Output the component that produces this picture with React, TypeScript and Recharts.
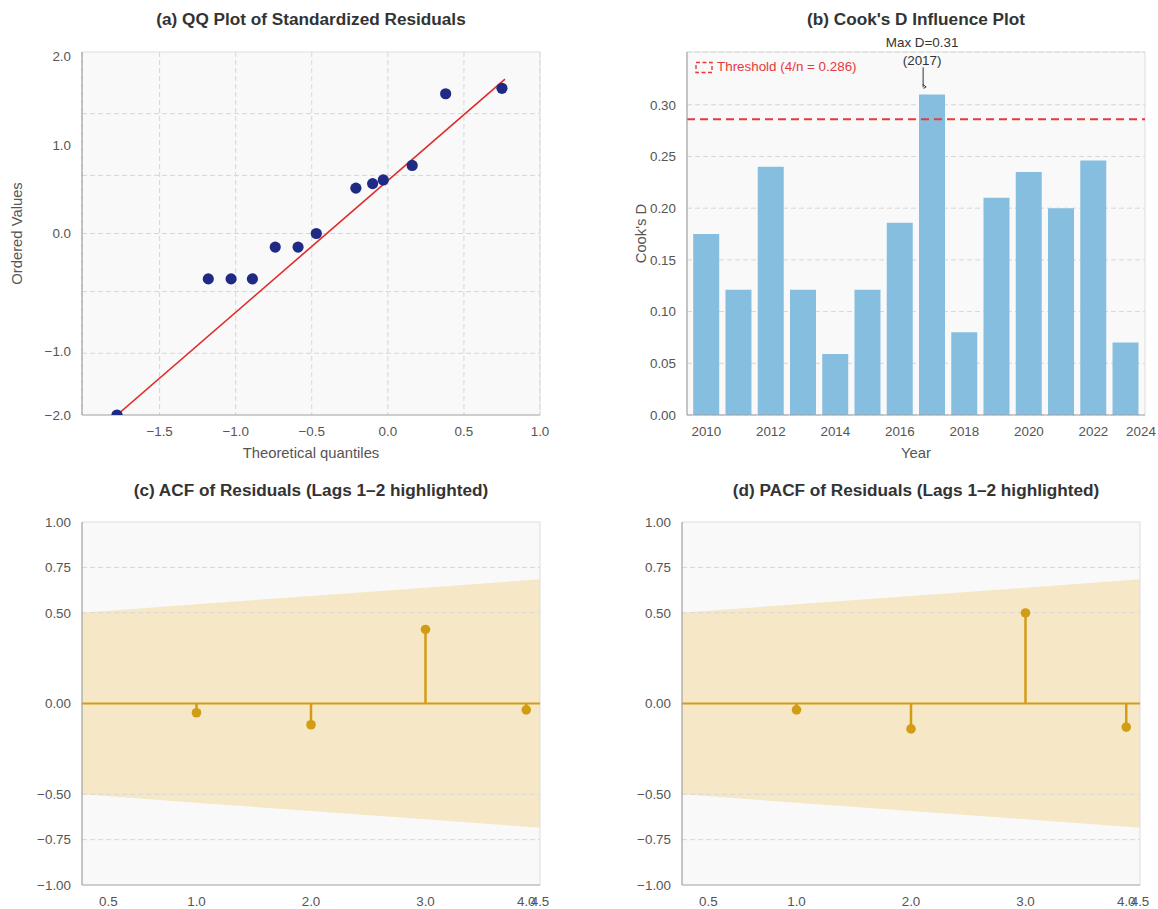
import React from 'react';
import {
  ScatterChart, Scatter, XAxis, YAxis, CartesianGrid, ReferenceLine,
  BarChart, Bar, ComposedChart, Area, ReferenceDot,
} from 'recharts';

const FONT = '"Liberation Sans", Arial, Helvetica, sans-serif';
const TICK_FS = 13.4;
const LABEL_FS = 14.8;
const TITLE_FS = 17.2;
const TICK_COLOR = '#555555';
const GRID = '#d6d6d6';
const SPINE = '#a0a0a0';
const SPINE_LIGHT = '#dddddd';
const BG = '#f9f9f9';

// ---------- (a) QQ plot ----------
const qqTheoretical = [-1.78, -1.18, -1.03, -0.89, -0.74, -0.59, -0.47, -0.21, -0.10, -0.03, 0.16, 0.38, 0.75];
const qqOrdered = [-2.0, -0.5, -0.5, -0.5, -0.15, -0.15, 0.0, 0.5, 0.55, 0.59, 0.75, 1.54, 1.6];
const qqLineX = [-1.78, 0.77];
const qqLineY = [-2.0, 1.7];
const qqXTicks = [-1.5, -1.0, -0.5, 0.0, 0.5, 1.0];
const qqXTickLabels = ['\u22121.5', '\u22121.0', '\u22120.5', '0.0', '0.5', '1.0'];
const qqYTicks = [1.95, 0.97, 0, -1.3, -2.0];
const qqYTickLabels = ['2.0', '1.0', '0.0', '\u22121.0', '\u22122.0'];
const qqYGrid = [1.32, 0.64, 0, -0.64, -1.32];

// ---------- (b) Cook's D ----------
const years = [2010, 2011, 2012, 2013, 2014, 2015, 2016, 2017, 2018, 2019, 2020, 2021, 2022, 2023];
const cooksD = [0.175, 0.121, 0.240, 0.121, 0.059, 0.121, 0.186, 0.310, 0.080, 0.210, 0.235, 0.200, 0.246, 0.070];
const yearTicks = [2010, 2012, 2014, 2016, 2018, 2020, 2022, 2024];
const cookYTicks = [0, 0.05, 0.1, 0.15, 0.2, 0.25, 0.3];
const threshold = 0.286;
const thresholdLabel = 'Threshold (4/n = 0.286)';

// ---------- (c)/(d) ACF / PACF ----------
const lags = [1, 2, 3, 3.88];
const acfValues = [-0.051, -0.117, 0.408, -0.035];
const pacfValues = [-0.035, -0.14, 0.499, -0.13];
const bandX = [0, 1, 2, 3, 4];
const bandUpper = [0.5, 0.547, 0.592, 0.638, 0.685];
const bandLower = [-0.5, -0.547, -0.592, -0.638, -0.685];
const lagXTicks = [0.23, 1, 2, 3, 3.88, 4];
const lagXTickLabels = ['0.5', '1.0', '2.0', '3.0', '4.0', '4.5'];
const corrYTicks = [1, 0.75, 0.5, 0, -0.5, -0.75, -1];
const corrYTickLabels = ['1.00', '0.75', '0.50', '0.00', '\u22120.50', '\u22120.75', '\u22121.00'];
const corrYGrid = [0.75, 0.5, -0.5, -0.75];

const titles = [
  '(a) QQ Plot of Standardized Residuals',
  "(b) Cook's D Influence Plot",
  '(c) ACF of Residuals (Lags 1\u20132 highlighted)',
  '(d) PACF of Residuals (Lags 1\u20132 highlighted)',
];

const GOLD = '#d29d14';
const BAND = '#f6e8c6';

const labelFor = (ticks: number[], labels: string[]) => (v: number) => {
  const i = ticks.indexOf(v);
  return i >= 0 ? labels[i] : String(v);
};

const tickStyle = { fill: TICK_COLOR, fontSize: TICK_FS };

function Title({ text, cx, cy }: { text: string; cx: number; cy: number }) {
  return (
    <div
      style={{
        position: 'absolute', left: cx - 300, width: 600, top: cy - 11, height: 22,
        lineHeight: '22px', textAlign: 'center', fontWeight: 'bold', fontSize: TITLE_FS, color: '#333',
      }}
    >
      {text}
    </div>
  );
}

const dot = (r: number, color: string) => (props: any) => (
  <circle cx={props.cx} cy={props.cy} r={r} fill={color} />
);

function PanelA() {
  const points = qqTheoretical.map((x, i) => ({ x, y: qqOrdered[i] }));
  const line = qqLineX.map((x, i) => ({ x, y: qqLineY[i] }));
  return (
    <ScatterChart width={560} height={470} margin={{ top: 52, right: 20, bottom: 0, left: 0 }}>
      <CartesianGrid fill={BG} stroke={GRID} strokeDasharray="5 3" horizontal={false} />
      {qqYGrid.map((v) => (
        <ReferenceLine key={'g' + v} y={v} stroke={GRID} strokeDasharray="5 3" />
      ))}
      <ReferenceLine y={2} stroke={SPINE_LIGHT} ifOverflow="visible" />
      <ReferenceLine x={1.0} stroke={SPINE_LIGHT} ifOverflow="visible" />
      <XAxis
        type="number" dataKey="x" domain={[-2.01, 1.0]} allowDataOverflow ticks={qqXTicks} interval={0}
        tickLine={false} tickSize={0} tickMargin={11} axisLine={{ stroke: SPINE, strokeWidth: 1.2 }}
        tick={tickStyle} tickFormatter={labelFor(qqXTicks, qqXTickLabels)} height={55}
        label={{ value: 'Theoretical quantiles', position: 'insideBottom', offset: 12, fill: TICK_COLOR, fontSize: LABEL_FS }}
      />
      <YAxis
        type="number" dataKey="y" domain={[-2, 2]} allowDataOverflow ticks={qqYTicks} interval={0}
        tickLine={false} tickSize={0} tickMargin={11} axisLine={{ stroke: SPINE, strokeWidth: 1.2 }}
        tick={tickStyle} tickFormatter={labelFor(qqYTicks, qqYTickLabels)} width={82}
        label={{ value: 'Ordered Values', angle: -90, position: 'insideLeft', offset: 17, fill: TICK_COLOR, fontSize: LABEL_FS, style: { textAnchor: 'middle' } }}
      />
      <Scatter data={line} line={{ stroke: '#e12b2b', strokeWidth: 1.6 }} shape={() => <g />} isAnimationActive={false} />
      <Scatter data={points} shape={dot(5.6, '#1f2a85')} isAnimationActive={false} />
    </ScatterChart>
  );
}

const YearTick = (props: any) => {
  const { x, y, payload } = props;
  const cx = Math.min(x, 541);
  return (
    <text x={cx} y={y} dy="0.71em" textAnchor="middle" fill={TICK_COLOR} fontSize={TICK_FS}>
      {payload.value}
    </text>
  );
};

const maxIdx = cooksD.indexOf(Math.max(...cooksD));
const annotationLines = [`Max D=${cooksD[maxIdx].toFixed(2)}`, `(${years[maxIdx]})`];

const Annotation = (props: any) => {
  const { cx, cy } = props;
  const ax = cx - 9;
  return (
    <g>
      <text x={cx - 10} y={cy - 51.6} textAnchor="middle" dominantBaseline="central" fontSize={TICK_FS} fill="#333">
        {annotationLines[0]}
      </text>
      <text x={cx - 10} y={cy - 33.6} textAnchor="middle" dominantBaseline="central" fontSize={TICK_FS} fill="#333">
        {annotationLines[1]}
      </text>
      <line x1={ax} y1={cy - 27} x2={ax} y2={cy - 7} stroke="#333" strokeWidth={1} />
      <polyline points={`${ax - 0.5},${cy - 10} ${ax + 3},${cy - 7.5} ${ax + 0.5},${cy - 6}`} fill="none" stroke="#333" strokeWidth={1} />
    </g>
  );
};

function PanelB() {
  const data = years.map((year, i) => ({ year, d: cooksD[i] }));
  return (
    <BarChart width={558} height={470} data={data} margin={{ top: 52, right: 13, bottom: 0, left: 0 }}>
      <CartesianGrid fill={BG} stroke={GRID} strokeDasharray="5 3" vertical={false} />
      <ReferenceLine y={0.351} stroke={SPINE_LIGHT} ifOverflow="visible" />
      <ReferenceLine x={2023.6} stroke={SPINE_LIGHT} ifOverflow="visible" />
      <XAxis
        type="number" dataKey="year" domain={[2009.4, 2023.6]} allowDataOverflow ticks={yearTicks} interval={0}
        tickLine={false} tickSize={0} tickMargin={11} axisLine={{ stroke: SPINE, strokeWidth: 1.2 }}
        tick={<YearTick />} height={55}
        label={{ value: 'Year', position: 'insideBottom', offset: 12, fill: TICK_COLOR, fontSize: LABEL_FS }}
      />
      <YAxis
        type="number" domain={[0, 0.351]} allowDataOverflow ticks={cookYTicks} interval={0}
        tickLine={false} tickSize={0} tickMargin={11} axisLine={{ stroke: SPINE, strokeWidth: 1.2 }}
        tick={tickStyle} tickFormatter={(v: number) => v.toFixed(2)} width={87}
        label={{ value: "Cook's D", angle: -90, position: 'insideLeft', offset: 41, fill: TICK_COLOR, fontSize: LABEL_FS, style: { textAnchor: 'middle' } }}
      />
      <Bar dataKey="d" fill="#86bedf" barSize={26} isAnimationActive={false} />
      <ReferenceLine y={threshold} stroke="#e8383d" strokeDasharray="8 5" strokeWidth={2} />
      <ReferenceDot x={years[maxIdx]} y={cooksD[maxIdx]} shape={Annotation} ifOverflow="visible" />
    </BarChart>
  );
}

function CorrPanel({ values }: { values: number[] }) {
  const band = bandX.map((x, i) => ({ x, upper: bandUpper[i], lower: bandLower[i] }));
  const pts = lags.map((x, i) => ({ x, y: values[i] }));
  return (
    <ComposedChart width={560} height={439} data={band} margin={{ top: 52, right: 20, bottom: 0, left: 0 }}>
      <CartesianGrid fill={BG} horizontal={false} vertical={false} />
      <XAxis
        type="number" dataKey="x" domain={[0, 4]} allowDataOverflow ticks={lagXTicks} interval={0}
        tickLine={false} tickSize={0} tickMargin={11} axisLine={{ stroke: SPINE, strokeWidth: 1.2 }}
        tick={tickStyle} tickFormatter={labelFor(lagXTicks, lagXTickLabels)} height={24}
      />
      <YAxis
        type="number" domain={[-1, 1]} allowDataOverflow ticks={corrYTicks} interval={0}
        tickLine={false} tickSize={0} tickMargin={11} axisLine={{ stroke: SPINE, strokeWidth: 1.2 }}
        tick={tickStyle} tickFormatter={labelFor(corrYTicks, corrYTickLabels)} width={82}
      />
      <Area
        type="linear" dataKey={(d: any) => [d.lower, d.upper]} fill={BAND} fillOpacity={1}
        stroke="none" isAnimationActive={false} dot={false} activeDot={false}
      />
      {corrYGrid.map((v) => (
        <ReferenceLine key={'g' + v} y={v} stroke={GRID} strokeDasharray="5 3" />
      ))}
      <ReferenceLine y={1} stroke={SPINE_LIGHT} ifOverflow="visible" />
      <ReferenceLine x={4} stroke={SPINE_LIGHT} ifOverflow="visible" />
      <ReferenceLine y={0} stroke={GOLD} strokeWidth={2} />
      {lags.map((l, i) => (
        <ReferenceLine key={'s' + i} segment={[{ x: l, y: 0 }, { x: l, y: values[i] }]} stroke={GOLD} strokeWidth={2.5} />
      ))}
      <Scatter data={pts} dataKey="y" shape={dot(4.8, GOLD)} isAnimationActive={false} />
    </ComposedChart>
  );
}

function ThresholdLegend() {
  return (
    <div style={{ position: 'absolute', left: 695, top: 59, height: 16, display: 'flex', alignItems: 'center' }}>
      <svg width={18} height={13} style={{ display: 'block' }}>
        <rect x={1} y={1.5} width={16} height={10} fill="none" stroke="#e8383d" strokeWidth={1.4} strokeDasharray="4 2.5" />
      </svg>
      <span style={{ marginLeft: 4, fontSize: TICK_FS, color: '#e8383d', lineHeight: '16px' }}>{thresholdLabel}</span>
    </div>
  );
}

export default function App() {
  return (
    <div style={{ position: 'absolute', left: 0, top: 0, width: 1158, height: 909, background: '#fff', fontFamily: FONT, overflow: 'hidden' }}>
      <Title text={titles[0]} cx={311} cy={19} />
      <Title text={titles[1]} cx={916} cy={19} />
      <Title text={titles[2]} cx={311} cy={490} />
      <Title text={titles[3]} cx={916} cy={490} />
      <div style={{ position: 'absolute', left: 0, top: 0 }}>
        <PanelA />
      </div>
      <div style={{ position: 'absolute', left: 600, top: 0 }}>
        <PanelB />
      </div>
      <ThresholdLegend />
      <div style={{ position: 'absolute', left: 0, top: 470 }}>
        <CorrPanel values={acfValues} />
      </div>
      <div style={{ position: 'absolute', left: 600, top: 470 }}>
        <CorrPanel values={pacfValues} />
      </div>
    </div>
  );
}
